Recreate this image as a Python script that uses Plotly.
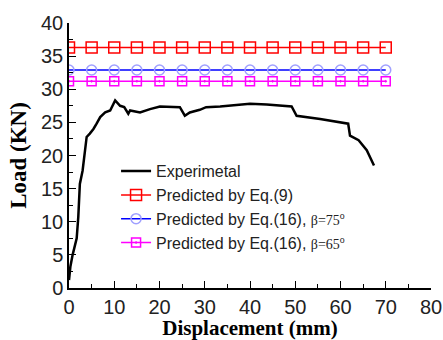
import plotly.graph_objects as go

exp_x = [0, 0.3, 0.8, 1.7, 2.05, 2.4, 3.0, 3.1, 3.9, 4.6, 5.4, 6.1, 6.9, 8.0, 9.1, 10.2, 11.3, 12.2,
         13.1, 13.5, 15.7, 17.9, 20.1, 24.5, 25.6, 26.7, 28.9, 30.3, 33.4, 40, 43.7, 49.2, 50.3,
         55.5, 59.5, 61.7, 62.1, 64, 65.8, 67.4]
exp_y = [1.2, 3.2, 5, 7.5, 10.7, 15.7, 17.7, 18.2, 22.8, 23.3, 24, 24.8, 25.8, 26.5, 26.8, 28.3,
         27.5, 27.3, 26.3, 26.8, 26.5, 27.0, 27.4, 27.3, 26.0, 26.5, 26.9, 27.3, 27.4, 27.8, 27.7,
         27.4, 26.0, 25.5, 25.0, 24.8, 23.0, 22.3, 20.8, 18.5]

pred_x = [0, 5, 10, 15, 20, 25, 30, 35, 40, 45, 50, 55, 60, 65, 70]
pred_eq9 = [36.3] * len(pred_x)
pred_eq16_75 = [32.9] * len(pred_x)
pred_eq16_65 = [31.2] * len(pred_x)

names = [
    "Experimetal",
    "Predicted by Eq.(9)",
    "Predicted by Eq.(16), <span style='font-family:Liberation Serif;font-size:14px'>β=75<sup>o</sup></span>",
    "Predicted by Eq.(16), <span style='font-family:Liberation Serif;font-size:14px'>β=65<sup>o</sup></span>",
]

fig = go.Figure()
fig.add_trace(go.Scatter(x=exp_x, y=exp_y, mode="lines", name=names[0],
                         line=dict(color="black", width=2.5)))
fig.add_trace(go.Scatter(x=pred_x, y=pred_eq9, mode="lines+markers", name=names[1],
                         line=dict(color="#ff0000", width=1.5),
                         marker=dict(symbol="square-open", size=11, color="#ff0000",
                                     line=dict(width=1.5))))
fig.add_trace(go.Scatter(x=pred_x, y=pred_eq16_75, mode="lines+markers", name=names[2],
                         line=dict(color="#0000ff", width=1.5),
                         marker=dict(symbol="circle-open", size=10, color="#a0a0ff",
                                     line=dict(width=1.5))))
fig.add_trace(go.Scatter(x=pred_x, y=pred_eq16_65, mode="lines+markers", name=names[3],
                         line=dict(color="#ff00ff", width=1.5),
                         marker=dict(symbol="square-open-dot", size=9, color="#ff00ff",
                                     line=dict(width=1.5))))

axis_common = dict(showline=True, linecolor="black", linewidth=1.5, showgrid=False,
                   zeroline=False, ticks="inside", ticklen=7, tickwidth=1.2, tickcolor="black",
                   tickfont=dict(family="Liberation Sans, Arial", size=20, color="#222"),
                   mirror=False, automargin=False)

fig.update_xaxes(range=[0, 80], dtick=10, tick0=0,
                 minor=dict(ticks="inside", ticklen=4, dtick=5, tick0=0, tickcolor="black"),
                 title=dict(text="<b>Displacement (mm)</b>",
                            font=dict(family="Liberation Serif, Times New Roman", size=21,
                                      color="black"), standoff=7),
                 **axis_common)
fig.update_yaxes(range=[0, 40], dtick=5, tick0=0,
                 minor=dict(ticks="inside", ticklen=4, dtick=2.5, tick0=0, tickcolor="black"),
                 title=dict(text="<b>Load (KN)</b>",
                            font=dict(family="Liberation Serif, Times New Roman", size=23,
                                      color="black"), standoff=8),
                 **axis_common)

fig.update_layout(
    width=443, height=340,
    margin=dict(l=69, r=12, t=23, b=52),
    plot_bgcolor="white", paper_bgcolor="white",
    showlegend=True,
    legend=dict(x=0.13, y=0.505, xanchor="left", yanchor="top",
                bgcolor="rgba(0,0,0,0)",
                font=dict(family="Liberation Sans, Arial", size=16, color="#222"),
                tracegroupgap=0),
)

fig.write_html("out.html", config={"displayModeBar": False},
               post_script="document.body.style.margin='0';document.body.style.overflow='hidden';")
